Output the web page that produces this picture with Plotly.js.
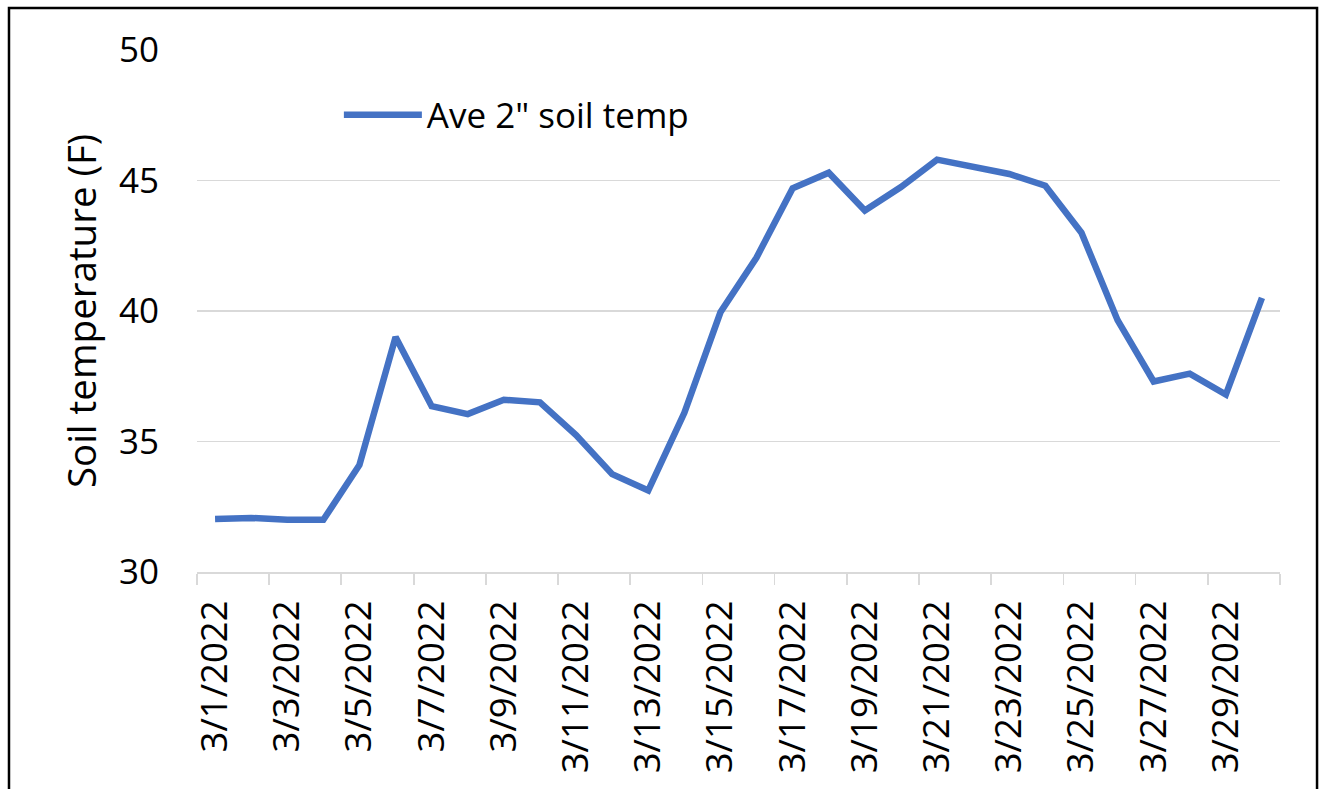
<!DOCTYPE html>
<html>
<head>
<meta charset="utf-8">
<script src="https://cdn.plot.ly/plotly-3.0.1.min.js"></script>
<style>
html,body{margin:0;padding:0;background:#fff;}
#chart{width:1320px;height:789px;}
</style>
</head>
<body>
<div id="chart"></div>
<script>
const dates = ["3/1/2022","3/2/2022","3/3/2022","3/4/2022","3/5/2022","3/6/2022","3/7/2022","3/8/2022","3/9/2022","3/10/2022",
"3/11/2022","3/12/2022","3/13/2022","3/14/2022","3/15/2022","3/16/2022","3/17/2022","3/18/2022","3/19/2022","3/20/2022",
"3/21/2022","3/22/2022","3/23/2022","3/24/2022","3/25/2022","3/26/2022","3/27/2022","3/28/2022","3/29/2022","3/30/2022"];
const soilTemp = [32.03,32.07,32.0,32.0,34.1,39.0,36.35,36.05,36.6,36.5,
35.25,33.75,33.12,36.1,39.95,42.05,44.7,45.3,43.85,44.75,
45.8,45.5,45.25,44.8,43.0,39.65,37.3,37.6,36.8,40.5];
const seriesName = 'Ave 2" soil temp';
const yTicks = [30,35,40,45,50];

const FONT = "'Open Sans', sans-serif";
const trace = {
  x: dates, y: soilTemp, type: 'scatter', mode: 'lines', name: seriesName,
  line: {color: '#4472C4', width: 6.5, shape: 'linear'}
};
const layout = {
  width: 1320, height: 789,
  margin: {l: 197, r: 40, t: 50, b: 217},
  paper_bgcolor: '#fff', plot_bgcolor: '#fff',
  font: {family: FONT, color: '#000', size: 35},
  showlegend: true,
  legend: {x: 0.131, y: 0.8755, xanchor: 'left', yanchor: 'middle', xref: 'paper', yref: 'paper',
           bgcolor: 'rgba(0,0,0,0)', font: {size: 35, family: FONT}, itemwidth: 78},
  xaxis: {
    type: 'category', categoryorder: 'array', categoryarray: dates,
    range: [-0.5, dates.length - 0.5],
    tickson: 'boundaries', dtick: 2, tickangle: -90,
    ticks: 'outside', ticklen: 11, tickwidth: 1.8, tickcolor: '#d9d9d9',
    showline: true, linecolor: '#d9d9d9', linewidth: 1.8,
    showgrid: false, zeroline: false,
    tickfont: {size: 36.5, family: FONT}, ticklabelstandoff: 12, automargin: false
  },
  yaxis: {
    range: [30, 50], tickvals: yTicks, ticks: '',
    showgrid: true, gridcolor: '#d9d9d9', gridwidth: 1.8,
    showline: false, zeroline: false,
    tickfont: {size: 35, family: FONT}, ticklabelstandoff: 37,
    title: {text: 'Soil temperature (F)', font: {size: 38.5, family: FONT}, standoff: 10},
    automargin: false
  },
  shapes: [{type: 'rect', xref: 'paper', yref: 'paper', x0: -0.1736, x1: 1.0342, y0: -0.5, y1: 1.0805,
            line: {color: '#000', width: 2.5}, fillcolor: 'rgba(0,0,0,0)', layer: 'above'}]
};
Plotly.newPlot('chart', [trace], layout, {displayModeBar: false, staticPlot: true});
</script>
</body>
</html>
